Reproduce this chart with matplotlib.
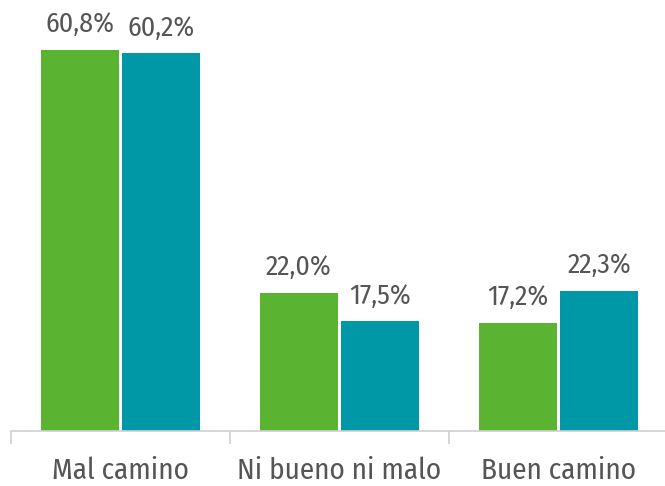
import matplotlib
matplotlib.use("Agg")
import matplotlib.pyplot as plt
import numpy as np
from matplotlib.font_manager import FontProperties

categories = ["Mal camino", "Ni bueno ni malo", "Buen camino"]
serie_a = [60.8, 22.0, 17.2]
serie_b = [60.2, 17.5, 22.3]
labels_a = ["60,8%", "22,0%", "17,2%"]
labels_b = ["60,2%", "17,5%", "22,3%"]

FAM = ["Fira Sans Condensed", "Open Sans", "DejaVu Sans"]

def fp(size):
    return FontProperties(family=FAM, size=size, weight="normal")

green = "#5BB332"
teal = "#0097A7"
txt = "#555555"

fig = plt.figure(figsize=(6.65, 4.86), dpi=100)
ax = fig.add_axes([11/665, 55/486, 657/665, 431/486])
x = np.arange(len(categories))
w = 0.356
off = 0.187
ba = ax.bar(x - off, serie_a, w, color=green)
bb = ax.bar(x + off, serie_b, w, color=teal)
for bars, labs in ((ba, labels_a), (bb, labels_b)):
    for r, l in zip(bars, labs):
        ax.annotate(l, (r.get_x() + r.get_width()/2, r.get_height()),
                    xytext=(0, 12.7), textcoords="offset points",
                    ha="center", va="baseline", fontproperties=fp(20), color=txt)
ax.set_xlim(-0.5, 2.5)
ax.set_ylim(0, 68.7)
for s in ("left", "right", "top"):
    ax.spines[s].set_visible(False)
ax.spines["bottom"].set_color("#d0d0d0")
ax.spines["bottom"].set_linewidth(1.2)
ax.set_yticks([])
ax.set_xticks(x)
ax.set_xticklabels(categories, color=txt, va="bottom")
for t in ax.get_xticklabels():
    t.set_fontproperties(fp(21))
ax.tick_params(axis="x", which="major", length=0, pad=38.6)
ax.set_xticks([-0.5, 0.5, 1.5, 2.5], minor=True)
ax.tick_params(axis="x", which="minor", length=9, width=1.2, color="#d0d0d0")
fig.savefig("out.png", dpi=100)
